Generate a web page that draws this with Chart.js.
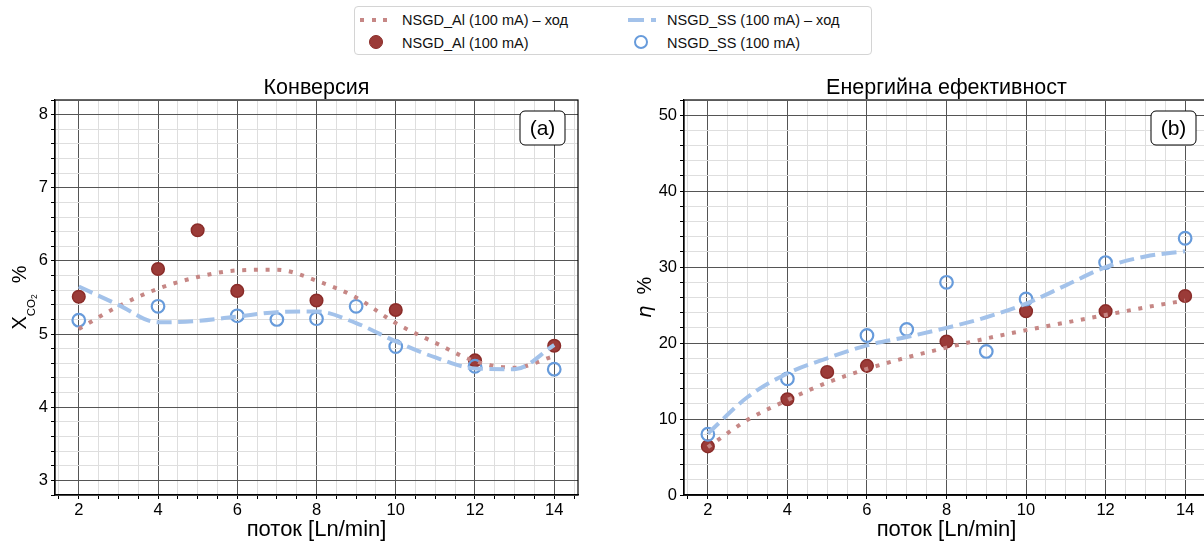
<!DOCTYPE html>
<html lang="bg">
<head>
<meta charset="utf-8">
<title>Конверсия и енергийна ефективност</title>
<script src="https://cdn.jsdelivr.net/npm/chart.js@4.4.1/dist/chart.umd.min.js"></script>
<style>
  html, body { margin: 0; padding: 0; background: #fff; }
  body { width: 1204px; height: 544px; overflow: hidden; position: relative;
         font-family: "Liberation Sans", Arial, sans-serif; }
  #chartA { position: absolute; left: 0; top: 60px; }
  #chartB { position: absolute; left: 620px; top: 60px; }
  .legend { position: absolute; left: 354px; top: 6px; width: 518px; height: 49px;
            border: 1px solid #d4d4d4; border-radius: 4px; box-sizing: border-box; }
  .legend .txt { position: absolute; font-size: 14.5px; line-height: 16px; color: #111; white-space: nowrap; }
  .legend .sample { position: absolute; height: 4px; }
  .legend .dot { position: absolute; width: 14px; height: 14px; border-radius: 50%; box-sizing: border-box; }
</style>
</head>
<body>

<div class="legend">
  <div class="sample" style="left:5px; top:11px; width:28px;
       background: repeating-linear-gradient(90deg, #c68785 0 4px, transparent 4px 11.7px);"></div>
  <div class="txt" style="left:47px; top:5px;">NSGD_Al (100 mA) – ход</div>
  <div class="sample" style="left:273px; top:11px; width:28px;
       background: repeating-linear-gradient(90deg, #a3c2ea 0 16px, transparent 16px 23px);"></div>
  <div class="txt" style="left:312px; top:5px;">NSGD_SS (100 mA) – ход</div>

  <div class="dot" style="left:14px; top:28px; background:#9b3b38; border:1.5px solid #8a2c29;"></div>
  <div class="txt" style="left:47px; top:28px;">NSGD_Al (100 mA)</div>
  <div class="dot" style="left:279px; top:28px; border:2.2px solid #679bdb;"></div>
  <div class="txt" style="left:312px; top:28px;">NSGD_SS (100 mA)</div>
</div>

<canvas id="chartA" width="602" height="484"></canvas>
<canvas id="chartB" width="620" height="484"></canvas>

<script>
// measured flow rates (Ln/min) for each electrode
const alFlow = [2, 4, 5, 6, 8, 10, 12, 14];
const ssFlow = [2, 4, 6, 7, 8, 9, 10, 12, 14];

// CO2 conversion, %
const alConv = [5.51, 5.89, 6.42, 5.59, 5.46, 5.33, 4.64, 4.84];
const ssConv = [5.19, 5.38, 5.25, 5.20, 5.21, 5.38, 4.83, 4.56, 4.52];

// energy efficiency, %
const alEff = [6.4, 12.6, 16.2, 17.0, 20.2, 24.2, 24.2, 26.2];
const ssEff = [8.0, 15.3, 21.0, 21.8, 28.0, 18.9, 25.8, 30.6, 33.8];

// trend curves ("ход")
const trendFlow = [2, 3, 4, 5, 6, 7, 8, 9, 10, 11, 12, 13, 14];
const alConvTrend = [5.07, 5.38, 5.62, 5.78, 5.87, 5.88, 5.73, 5.50, 5.15, 4.88, 4.63, 4.54, 4.70];
const ssConvTrend = [5.65, 5.40, 5.16, 5.18, 5.24, 5.30, 5.31, 5.15, 4.90, 4.68, 4.53, 4.52, 4.85];
const alEffTrend = [6.3, 9.9, 12.5, 14.8, 16.6, 18.1, 19.4, 20.6, 21.7, 22.7, 23.7, 24.7, 25.6];
const ssEffTrend = [8.1, 12.9, 16.0, 18.0, 19.7, 20.8, 22.0, 23.4, 25.2, 27.6, 30.0, 31.4, 32.1];

// tick labels
const xMajor = [2, 4, 6, 8, 10, 12, 14];
const yMajorConv = [3, 4, 5, 6, 7, 8];
const yMajorEff = [0, 10, 20, 30, 40, 50];

const FONT = '"Liberation Sans", Arial, sans-serif';
const AL_POINT = '#9b3b38', AL_EDGE = '#8a2c29', AL_LINE = '#c68785';
const SS_POINT = '#679bdb', SS_LINE = '#a3c2ea';

function steps(from, to, step) {
  const out = [];
  const n = Math.round((to - from) / step);
  for (let i = 0; i <= n; i++) out.push(Math.round((from + i * step) * 1000) / 1000);
  return out;
}

function isMajor(v, majors) {
  return majors.some(m => Math.abs(m - v) < 1e-6);
}

function pts(xs, ys) {
  return xs.map((x, i) => ({ x: x, y: ys[i] }));
}

// spines, panel tag, title and the rotated y label
const framePlugin = {
  id: 'frame',
  afterDatasetsDraw(chart, args, o) {
    const { ctx, chartArea: a } = chart;
    ctx.save();
    ctx.strokeStyle = '#000';
    ctx.lineWidth = 1.2;
    ctx.strokeRect(a.left, a.top, a.right - a.left, a.bottom - a.top);

    const w = 45, h = 34, x = a.right - 13 - w, y = a.top + 11;
    ctx.beginPath();
    ctx.roundRect(x, y, w, h, 5);
    ctx.fillStyle = '#fff';
    ctx.fill();
    ctx.lineWidth = 1;
    ctx.stroke();
    ctx.fillStyle = '#000';
    ctx.font = '21px ' + FONT;
    ctx.textAlign = 'center';
    ctx.textBaseline = 'middle';
    ctx.fillText(o.tag, x + w / 2, y + h / 2 + 1);

    ctx.textBaseline = 'alphabetic';
    ctx.font = '21.5px ' + FONT;
    ctx.fillText(o.title, (a.left + a.right) / 2, a.top - 6);

    // y label, built from pieces so the subscript can sit lower
    ctx.translate(o.labelX, (a.top + a.bottom) / 2);
    ctx.rotate(-Math.PI / 2);
    ctx.textAlign = 'left';
    let total = 0;
    o.label.forEach(p => { ctx.font = p.font; total += ctx.measureText(p.t).width; });
    let cx = -total / 2;
    o.label.forEach(p => {
      ctx.font = p.font;
      ctx.fillText(p.t, cx, p.dy || 0);
      cx += ctx.measureText(p.t).width;
    });
    ctx.restore();
  }
};

function makePanel(id, cfg) {
  const yTicks = steps(cfg.yMin, cfg.yMax, cfg.yStep);
  const xTicks = steps(1.5, 14.5, 0.5);
  return new Chart(document.getElementById(id), {
    type: 'scatter',
    data: {
      datasets: [
        {
          data: pts(trendFlow, cfg.ssTrend), showLine: true, pointRadius: 0,
          borderColor: SS_LINE, borderWidth: 4, borderDash: [15, 6.5], borderCapStyle: 'butt',
          cubicInterpolationMode: 'monotone', fill: false
        },
        {
          data: pts(trendFlow, cfg.alTrend), showLine: true, pointRadius: 0,
          borderColor: AL_LINE, borderWidth: 4, borderDash: [4, 7.7], borderCapStyle: 'butt',
          cubicInterpolationMode: 'monotone', fill: false
        },
        {
          data: pts(ssFlow, cfg.ss), pointRadius: 6.3, pointBorderWidth: 2.2,
          pointBackgroundColor: 'rgba(0,0,0,0)', pointBorderColor: SS_POINT
        },
        {
          data: pts(alFlow, cfg.al), pointRadius: 6.3, pointBorderWidth: 1.5,
          pointBackgroundColor: AL_POINT, pointBorderColor: AL_EDGE
        }
      ]
    },
    options: {
      responsive: false,
      animation: false,
      devicePixelRatio: 1,
      events: [],
      layout: { padding: { top: 40, right: cfg.padRight, left: 0, bottom: 0 } },
      plugins: {
        legend: { display: false },
        tooltip: { enabled: false },
        frame: { tag: cfg.tag, title: cfg.title, label: cfg.label, labelX: cfg.labelX }
      },
      scales: {
        x: {
          type: 'linear', min: 1.4, max: 14.6,
          afterBuildTicks: s => { s.ticks = xTicks.map(v => ({ value: v })); },
          afterFit: s => { s.height = 49; },
          ticks: {
            autoSkip: false, maxRotation: 0, padding: 2, color: '#000',
            font: { size: 16.5, family: FONT },
            callback: v => isMajor(v, xMajor) ? String(v) : ''
          },
          grid: {
            color: c => isMajor(c.tick.value, xMajor) ? '#555' : '#dedede',
            lineWidth: 1, tickLength: 4, tickColor: '#000'
          },
          border: { display: true, color: '#000', width: 1.2 },
          title: {
            display: true, text: 'поток [Ln/min]', color: '#000',
            font: { size: 22, family: FONT }, padding: { top: 0, bottom: 1 }
          }
        },
        y: {
          type: 'linear', min: cfg.yMin, max: cfg.yMax,
          afterBuildTicks: s => { s.ticks = yTicks.map(v => ({ value: v })); },
          afterFit: s => { s.width = cfg.yWidth; },
          ticks: {
            autoSkip: false, padding: 3, color: '#000',
            font: { size: 16.5, family: FONT },
            callback: v => isMajor(v, cfg.yMajor) ? String(v) : ''
          },
          grid: {
            color: c => isMajor(c.tick.value, cfg.yMajor) ? '#555' : '#dedede',
            lineWidth: 1, tickLength: 4, tickColor: '#000'
          },
          border: { display: true, color: '#000', width: 1.2 }
        }
      }
    },
    plugins: [framePlugin]
  });
}

makePanel('chartA', {
  al: alConv, ss: ssConv, alTrend: alConvTrend, ssTrend: ssConvTrend,
  yMin: 2.8, yMax: 8.2, yStep: 0.2, yMajor: yMajorConv,
  yWidth: 55, padRight: 24, tag: '(a)', title: 'Конверсия', labelX: 26,
  label: [
    { t: 'X', font: '20px ' + FONT },
    { t: 'CO', font: '11.5px ' + FONT, dy: 8.5 },
    { t: '2', font: '8.5px ' + FONT, dy: 11 },
    { t: '  %', font: '20px ' + FONT }
  ]
});

makePanel('chartB', {
  al: alEff, ss: ssEff, alTrend: alEffTrend, ssTrend: ssEffTrend,
  yMin: 0, yMax: 52, yStep: 2, yMajor: yMajorEff,
  yWidth: 64, padRight: 31, tag: '(b)', title: 'Енергийна ефективност', labelX: 31,
  label: [
    { t: 'η', font: 'italic 20px "DejaVu Sans", ' + FONT },
    { t: '  %', font: '20px ' + FONT }
  ]
});
</script>
</body>
</html>
